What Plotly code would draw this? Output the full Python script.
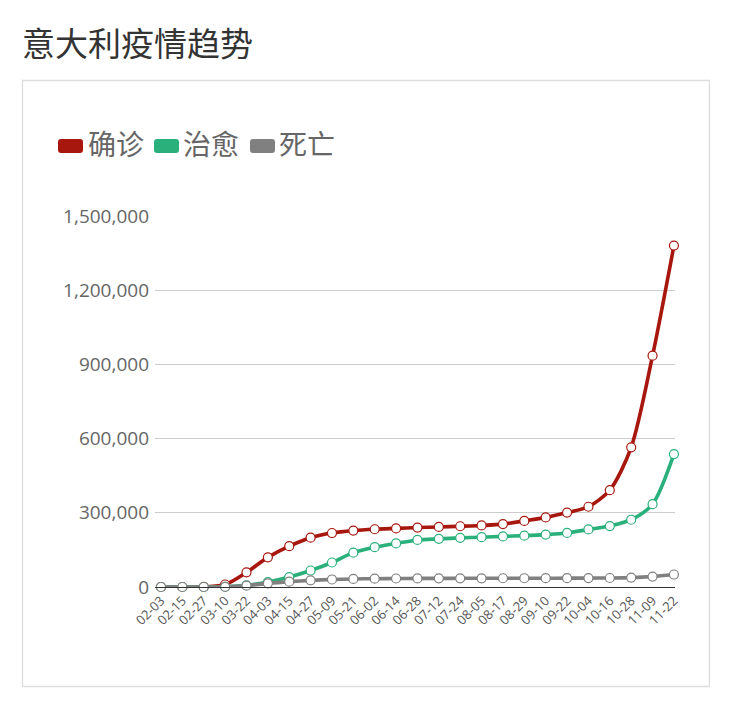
import plotly.graph_objects as go

dates = ["02-03", "02-15", "02-27", "03-10", "03-22", "04-03", "04-15", "04-27",
         "05-09", "05-21", "06-02", "06-14", "06-28", "07-12", "07-24", "08-05",
         "08-17", "08-29", "09-10", "09-22", "10-04", "10-16", "10-28", "11-09", "11-22"]
confirmed = [2, 3, 650, 10149, 59138, 119827, 165155, 199414, 218268, 228006, 233515,
             236989, 240436, 242827, 245590, 248803, 254235, 267298, 281500, 301000,
             324500, 391611, 564778, 935104, 1380531]
recovered = [0, 0, 45, 1004, 7024, 19758, 40164, 66624, 99023, 138840, 160938,
             176370, 190248, 194579, 198756, 201323, 204500, 207653, 211885, 218500,
             232681, 246500, 272000, 335074, 537255]
deaths = [0, 0, 17, 631, 5476, 14681, 21645, 26977, 30395, 32486, 33530, 34345,
          34744, 34954, 35102, 35190, 35400, 35477, 35563, 35738, 36002, 36427,
          37905, 42330, 50453]
y_ticks = [0, 300000, 600000, 900000, 1200000, 1500000]

series_names = ["确诊", "治愈", "死亡"]
colors = ["#A8170E", "#2AB07A", "#808080"]

OFF = 8  # page body margin
W, H = 732 - OFF, 710 - OFF
L, R, T, B = 155 - OFF, 675 - OFF, 216 - OFF, 587 - OFF


def xp(px):
    return (px - OFF - L) / (R - L)


def yp(py):
    return (B - (py - OFF)) / (B - T)


fig = go.Figure()
for name, vals, col in zip(series_names, [confirmed, recovered, deaths], colors):
    fig.add_trace(go.Scatter(
        x=list(range(len(dates))), y=vals, name=name, mode="lines+markers",
        line=dict(color=col, width=3.6, shape="spline", smoothing=0.8),
        marker=dict(symbol="circle", size=9, color="white", line=dict(color=col, width=1.2)),
        cliponaxis=False, showlegend=False,
    ))

font_fam = "Open Sans, Noto Sans CJK SC, sans-serif"

shapes = [
    dict(type="rect", xref="paper", yref="paper", x0=xp(22.5), x1=xp(709.5),
         y0=yp(80.5), y1=yp(686.5), line=dict(color="#DDDDDD", width=1.3),
         fillcolor="rgba(0,0,0,0)", layer="below"),
]

annotations = [
    dict(text="意大利疫情趋势", xref="paper", yref="paper", x=xp(20), y=yp(43),
         xanchor="left", yanchor="middle", showarrow=False,
         font=dict(size=33, color="#333333", family=font_fam)),
]


def conv(token):
    if "," in token:
        a, b = token.split(",")
        return f"{xp(float(a)):.5f},{yp(float(b)):.5f}"
    return token


legend_items = [(58, 88), (154, 183), (250, 279)]
for (ix, tx), name, col in zip(legend_items, series_names, colors):
    x0, x1 = ix, ix + 25
    y0, y1 = 139, 153
    r = 3
    path = (f"M {x0 + r},{y0} L {x1 - r},{y0} Q {x1},{y0} {x1},{y0 + r} "
            f"L {x1},{y1 - r} Q {x1},{y1} {x1 - r},{y1} L {x0 + r},{y1} "
            f"Q {x0},{y1} {x0},{y1 - r} L {x0},{y0 + r} Q {x0},{y0} {x0 + r},{y0} Z")
    path_p = " ".join(conv(t) for t in path.split(" "))
    shapes.append(dict(type="path", xref="paper", yref="paper", path=path_p,
                       fillcolor=col, line=dict(width=0)))
    annotations.append(dict(text=name, xref="paper", yref="paper", x=xp(tx - 2), y=yp(144),
                            xanchor="left", yanchor="middle", showarrow=False,
                            font=dict(size=28, color="#666666", family=font_fam)))

fig.update_layout(
    width=W, height=H,
    margin=dict(l=L, r=W - R, t=T, b=H - B, pad=0),
    paper_bgcolor="white", plot_bgcolor="white",
    shapes=shapes, annotations=annotations,
    showlegend=False,
    xaxis=dict(
        tickmode="array", tickvals=list(range(len(dates))), ticktext=dates,
        range=[-0.28, 24.05], tickangle=-45, showgrid=False,
        showline=True, linecolor="#333333", linewidth=1, ticks="",
        tickfont=dict(size=13, color="#555555", family=font_fam),
        zeroline=False, fixedrange=True,
    ),
    yaxis=dict(
        range=[0, 1500000], tickvals=y_ticks, tickformat=",",
        showgrid=True, gridcolor="#CCCCCC", gridwidth=1,
        zeroline=False, showline=False, ticks="", ticklabelstandoff=5,
        tickfont=dict(size=19, color="#666666", family=font_fam),
        fixedrange=True,
    ),
)

fig.write_html("out.html")
